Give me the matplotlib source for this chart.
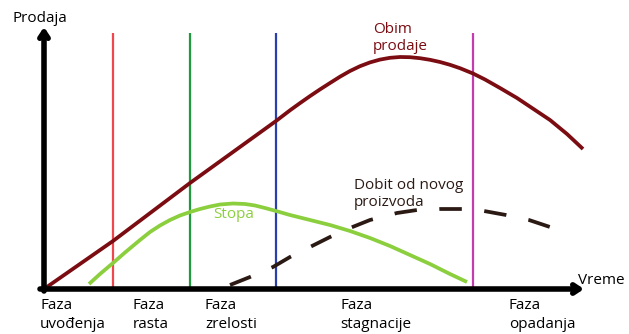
import matplotlib
matplotlib.use("Agg")
import matplotlib.pyplot as plt

plt.rcParams["font.family"] = ["Open Sans", "DejaVu Sans"]

# Product life cycle: time runs right from the origin, values go up.
# Units are relative to the axis origin.
sales_t = [0, 69, 146, 232, 246, 256, 266, 276, 286, 296, 306, 316, 326,
           336, 346, 356, 366, 376, 386, 396, 406, 416, 429, 441, 456, 473,
           491, 506, 523, 539]
sales_v = [0, 48, 106, 168, 178.7, 185.9, 192.9, 199.6, 206, 212.3, 218,
           222.8, 226.6, 229.4, 231.2, 232, 231.8, 230.8, 229.2, 227, 224.2,
           220.8, 215.5, 209.5, 201, 191, 179, 169, 155, 140]

rate_t = [45, 56, 69, 81, 96, 106, 116, 126, 136, 146, 156, 166, 176, 189,
          201, 211, 221, 232, 246, 266, 286, 306, 326, 346, 366, 386, 406,
          423]
rate_v = [5, 15, 26, 36.5, 49, 57, 63.5, 69, 73.5, 77, 80, 82.5, 84.5,
          85.5, 85, 83.5, 81, 78, 74, 69, 64, 58, 51, 43, 34, 25, 15, 7]

profit_t = [186, 206, 229, 246, 266, 286, 306, 326, 353, 373, 396, 418,
            440, 462, 485, 506]
profit_v = [4, 12, 22, 32, 42, 52, 61, 69, 76, 79, 80, 80, 78, 74, 69, 62]

phase_t = [69, 146, 232, 429]
phase_colors = ["#f0464e", "#1f9a3c", "#2a3fae", "#c43cae"]
phase_labels = ["Faza\nuvođenja", "Faza\nrasta", "Faza\nzrelosti",
                "Faza\nstagnacije", "Faza\nopadanja"]
phase_label_t = [-4, 89, 161, 296, 465]

fig = plt.figure(figsize=(6.29, 3.34), dpi=100)
ax = fig.add_axes([0, 0, 1, 1])
ax.set_xlim(-44, 585)
ax.set_ylim(-45, 289)
ax.axis("off")

for t, c in zip(phase_t, phase_colors):
    ax.plot([t, t], [0, 256], color=c, lw=1.6, solid_capstyle="butt")

ax.plot(sales_t, sales_v, color="#7a0c12", lw=2.7, solid_capstyle="butt",
        solid_joinstyle="round")
ax.plot(rate_t, rate_v, color="#8ccf3e", lw=2.7, solid_capstyle="butt",
        solid_joinstyle="round")
ax.plot(profit_t, profit_v, color="#2b1a14", lw=2.7,
        linestyle=(0, (6.0, 6.0)), dash_capstyle="butt")

# axes with chevron arrow heads
arrow = dict(arrowstyle="->,head_length=0.45,head_width=0.3", lw=4,
             color="black", shrinkA=0, shrinkB=0)
ax.annotate("", xy=(0, 262), xytext=(0, -2), arrowprops=arrow)
ax.annotate("", xy=(540, 0), xytext=(-4, 0), arrowprops=arrow)

fs = 11
ax.text(-4, 271, "Prodaja", fontsize=fs, ha="center", va="center")
ax.text(534, 9, "Vreme", fontsize=fs, ha="left", va="center")

ax.text(329, 251, "Obim\nprodaje", fontsize=fs, color="#7a0c12",
        ha="left", va="center", linespacing=1.2)
ax.text(169, 74, "Stopa", fontsize=fs, color="#8ccf3e",
        ha="left", va="center")
ax.text(310, 95, "Dobit od novog\nproizvoda", fontsize=fs,
        color="#2b1a14", ha="left", va="center", linespacing=1.2)

for t, label in zip(phase_label_t, phase_labels):
    ax.text(t, -26, label, fontsize=fs, ha="left", va="center",
            linespacing=1.3)

fig.savefig("out.png", dpi=100)
